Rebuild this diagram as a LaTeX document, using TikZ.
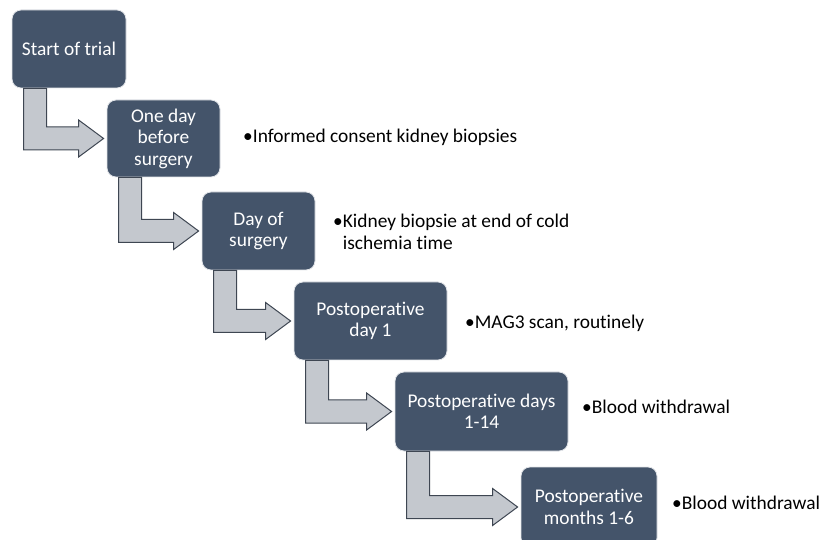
\documentclass[tikz,border=0pt]{standalone}
\usepackage{fontspec}
\setmainfont{Carlito}[Ligatures={NoCommon,NoContextual,NoRare}]
\usetikzlibrary{calc}
\definecolor{boxfill}{HTML}{44546A}
\definecolor{arrfill}{HTML}{C4C8CE}
\definecolor{arrline}{HTML}{3E4652}
\newcommand{\postop}{Postoperat\kern0pt ive}
\tikzset{
  stage/.style={draw=white!85!boxfill, line width=0.8pt, fill=boxfill, rounded corners=9pt,
    text=white, align=center, font=\fontsize{19.4}{21.5}\selectfont, inner sep=0pt},
  note/.style={anchor=west, align=left, inner sep=0pt, font=\fontsize{19.4}{21.5}\selectfont},
  bent/.style={draw=arrline, line width=1pt, fill=arrfill, line join=miter}
}
\newcommand{\bentarrow}[2]{%
  \path let \p1=(#1.south west), \p2=(#2.west) in
    [bent] (\x1+12pt,\y1) -- (\x1+35pt,\y1) -- (\x1+35pt,\y2+11.5pt)
    -- (\x2-28pt,\y2+11.5pt) -- (\x2-28pt,\y2+18.5pt) -- (\x2-3pt,\y2)
    -- (\x2-28pt,\y2-18.5pt) -- (\x2-28pt,\y2-11.5pt) -- (\x1+12pt,\y2-11.5pt) -- cycle;}
\begin{document}
\begin{tikzpicture}[x=1pt,y=-1pt]
\useasboundingbox (0,0) rectangle (823,540);
\node[stage, minimum width=114pt, minimum height=78pt] (b1) at (69,49) {Start of trial};
\node[stage, minimum width=113pt, minimum height=77pt] (b2) at (163.5,138.5) {One day\\before\\surgery};
\node[stage, minimum width=113pt, minimum height=78pt] (b3) at (258.5,231) {Day of\\surgery};
\node[stage, minimum width=153pt, minimum height=78pt] (b4) at (370.5,321) {\postop\\day 1};
\node[stage, minimum width=173pt, minimum height=79pt] (b5) at (481.5,411.5) {\postop{} days\\1-14};
\node[stage, minimum width=136pt, minimum height=80pt] (b6) at (589,507) {\postop\\months 1-6};
\bentarrow{b1}{b2}
\bentarrow{b2}{b3}
\bentarrow{b3}{b4}
\bentarrow{b4}{b5}
\bentarrow{b5}{b6}
\node[note] (t1) at (243,137) {•Informed consent kidney biopsies};
\node[note] (t2) at (333,232) {•Kidney biopsie at end of cold\\\phantom{•}ischemia time};
\node[note] (t3) at (465,323) {•MAG3 scan, routinely};
\node[note] (t4) at (582,407) {•Blood withdrawal};
\node[note] (t5) at (672,503) {•Blood withdrawal};
\end{tikzpicture}
\end{document}
